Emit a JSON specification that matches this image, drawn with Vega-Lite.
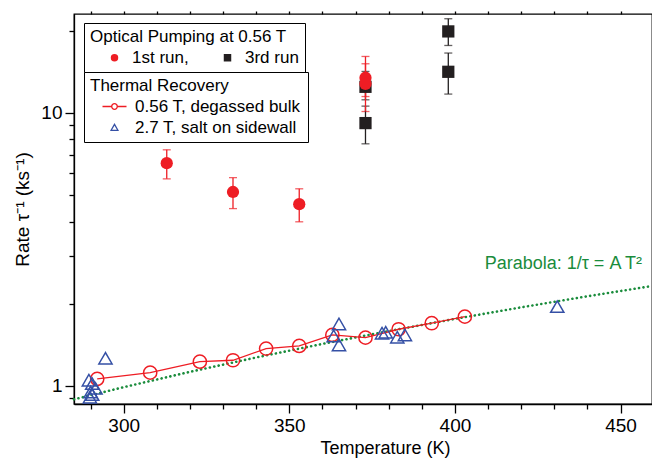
{
  "$schema": "https://vega.github.io/schema/vega-lite/v6.json",
  "width": 578,
  "height": 390,
  "autosize": "none",
  "padding": {"left": 74, "top": 14, "right": 0, "bottom": 64},
  "background": "white",
  "datasets": {
    "op": [
      {"run": "3rd run", "T": 373, "rate": 12.45, "lo": 11.16, "hi": 14.17},
      {"run": "3rd run", "T": 373, "rate": 9.17, "lo": 7.70, "hi": 10.58},
      {"run": "3rd run", "T": 398, "rate": 19.86, "lo": 17.64, "hi": 22.1},
      {"run": "3rd run", "T": 398, "rate": 14.13, "lo": 11.71, "hi": 16.55},
      {"run": "1st run", "T": 313, "rate": 6.54, "lo": 5.73, "hi": 7.32},
      {"run": "1st run", "T": 333, "rate": 5.13, "lo": 4.46, "hi": 5.79},
      {"run": "1st run", "T": 353, "rate": 4.63, "lo": 3.99, "hi": 5.27},
      {"run": "1st run", "T": 373, "rate": 13.44, "lo": 11.47, "hi": 16.08},
      {"run": "1st run", "T": 373, "rate": 12.77, "lo": 10.11, "hi": 15.12}
    ],
    "tr": [
      {"series": "0.56 T, degassed bulk", "T": 292, "rate": 1.061},
      {"series": "0.56 T, degassed bulk", "T": 308, "rate": 1.119},
      {"series": "0.56 T, degassed bulk", "T": 323, "rate": 1.227},
      {"series": "0.56 T, degassed bulk", "T": 333, "rate": 1.242},
      {"series": "0.56 T, degassed bulk", "T": 343, "rate": 1.370},
      {"series": "0.56 T, degassed bulk", "T": 353, "rate": 1.401},
      {"series": "0.56 T, degassed bulk", "T": 363, "rate": 1.538},
      {"series": "0.56 T, degassed bulk", "T": 373, "rate": 1.503},
      {"series": "0.56 T, degassed bulk", "T": 383, "rate": 1.613},
      {"series": "0.56 T, degassed bulk", "T": 393, "rate": 1.697},
      {"series": "0.56 T, degassed bulk", "T": 403, "rate": 1.794},
      {"series": "2.7 T,  salt on sidewall", "T": 289.5, "rate": 1.05},
      {"series": "2.7 T,  salt on sidewall", "T": 290.5, "rate": 1.02},
      {"series": "2.7 T,  salt on sidewall", "T": 291.5, "rate": 0.98},
      {"series": "2.7 T,  salt on sidewall", "T": 290, "rate": 0.95},
      {"series": "2.7 T,  salt on sidewall", "T": 290.5, "rate": 0.93},
      {"series": "2.7 T,  salt on sidewall", "T": 289.8, "rate": 0.91},
      {"series": "2.7 T,  salt on sidewall", "T": 294.5, "rate": 1.263},
      {"series": "2.7 T,  salt on sidewall", "T": 365, "rate": 1.687},
      {"series": "2.7 T,  salt on sidewall", "T": 363.4, "rate": 1.525},
      {"series": "2.7 T,  salt on sidewall", "T": 365, "rate": 1.413},
      {"series": "2.7 T,  salt on sidewall", "T": 378, "rate": 1.56},
      {"series": "2.7 T,  salt on sidewall", "T": 379.1, "rate": 1.573},
      {"series": "2.7 T,  salt on sidewall", "T": 382.6, "rate": 1.508},
      {"series": "2.7 T,  salt on sidewall", "T": 384.9, "rate": 1.538},
      {"series": "2.7 T,  salt on sidewall", "T": 430.9, "rate": 1.952}
    ],
    "fit": [
      {"T": 285, "rate": 0.8935},
      {"T": 300, "rate": 0.99},
      {"T": 320, "rate": 1.1264},
      {"T": 340, "rate": 1.2716},
      {"T": 360, "rate": 1.4256},
      {"T": 380, "rate": 1.5884},
      {"T": 400, "rate": 1.76},
      {"T": 420, "rate": 1.9404},
      {"T": 440, "rate": 2.1296},
      {"T": 459.5, "rate": 2.3225}
    ],
    "note": [
      {"T": 456.5, "rate": 2.69, "label": "Parabola: 1/τ = A T²"}
    ]
  },
  "layer": [
    {
      "data": {"name": "fit"},
      "mark": {"type": "line", "color": "#1a8c3c", "strokeWidth": 2.6, "strokeDash": [0.1, 4.4], "strokeCap": "round"},
      "encoding": {
        "x": {"field": "T", "type": "quantitative", "scale": {"domain": [285, 459.5], "nice": false, "zero": false},
          "axis": {"orient": "top", "values": [290, 300, 310, 320, 330, 340, 350, 360, 370, 380, 390, 400, 410, 420, 430, 440, 450], "labels": false, "tickSize": 3, "domain": false, "title": null}},
        "y": {"field": "rate", "type": "quantitative", "scale": {"type": "log", "domain": [0.859, 23], "nice": false}, "title": "Rate τ⁻¹  (ks⁻¹)"}
      }
    },
    {
      "data": {"name": "tr"},
      "transform": [{"filter": "datum.series == '0.56 T, degassed bulk'"}],
      "mark": {"type": "line", "color": "#ee1d24", "strokeWidth": 1.3},
      "encoding": {
        "x": {"field": "T", "type": "quantitative", "scale": {"domain": [285, 459.5], "nice": false, "zero": false}, "axis": null},
        "y": {"field": "rate", "type": "quantitative", "scale": {"type": "log", "domain": [0.859, 23], "nice": false}, "title": "Rate τ⁻¹  (ks⁻¹)"}
      }
    },
    {
      "data": {"name": "tr"},
      "mark": {"type": "point", "filled": false, "strokeWidth": 1.5, "size": 175, "opacity": 1},
      "encoding": {
        "x": {"field": "T", "type": "quantitative", "scale": {"domain": [285, 459.5], "nice": false, "zero": false}, "axis": null},
        "y": {"field": "rate", "type": "quantitative", "scale": {"type": "log", "domain": [0.859, 23], "nice": false}, "title": "Rate τ⁻¹  (ks⁻¹)"},
        "color": {"field": "series", "type": "nominal", "scale": {"domain": ["0.56 T, degassed bulk", "2.7 T,  salt on sidewall"], "range": ["#ee1d24", "#3550a5"]}, "legend": null},
        "shape": {"field": "series", "type": "nominal", "scale": {"domain": ["0.56 T, degassed bulk", "2.7 T,  salt on sidewall"], "range": ["circle", "triangle-up"]}, "legend": null}
      }
    },
    {
      "data": {"name": "op"},
      "mark": {"type": "errorbar", "ticks": {"size": 8}, "thickness": 1.3},
      "encoding": {
        "x": {"field": "T", "type": "quantitative", "scale": {"domain": [285, 459.5], "nice": false, "zero": false}, "axis": null},
        "y": {"field": "lo", "type": "quantitative", "scale": {"type": "log", "domain": [0.859, 23], "nice": false}, "title": "Rate τ⁻¹  (ks⁻¹)"},
        "y2": {"field": "hi"},
        "color": {"field": "run", "type": "nominal", "scale": {"domain": ["1st run", "3rd run"], "range": ["#ee1d24", "#231f20"]}, "legend": null}
      }
    },
    {
      "data": {"name": "op"},
      "mark": {"type": "point", "filled": true, "size": 150, "opacity": 1},
      "encoding": {
        "x": {"field": "T", "type": "quantitative", "scale": {"domain": [285, 459.5], "nice": false, "zero": false},
          "axis": {"orient": "bottom", "values": [290, 300, 310, 320, 330, 340, 350, 360, 370, 380, 390, 400, 410, 420, 430, 440, 450],
            "labelExpr": "datum.value % 50 == 0 ? datum.label : ''",
            "tickSize": {"condition": {"test": "datum.value % 50 == 0", "value": 9}, "value": 5},
            "labelPadding": 3, "labelOverlap": false, "labelFlush": false, "labelFontSize": 19,
            "title": "Temperature (K)", "titleFontSize": 18, "titlePadding": 4, "titleX": 311}},
        "y": {"field": "rate", "type": "quantitative", "scale": {"type": "log", "domain": [0.859, 23], "nice": false}, "title": "Rate τ⁻¹  (ks⁻¹)",
          "axis": {"values": [0.9, 1, 2, 3, 4, 5, 6, 7, 8, 9, 10, 20],
            "labelExpr": "datum.value == 1 || datum.value == 10 ? datum.label : ''",
            "format": "~g", "labelFontSize": 19,
            "tickSize": {"condition": {"test": "datum.value == 1 || datum.value == 10", "value": 9}, "value": 5},
            "labelPadding": 3, "labelOverlap": false, "titleFontSize": 19, "titlePadding": 8}},
        "color": {"field": "run", "type": "nominal", "scale": {"domain": ["1st run", "3rd run"], "range": ["#ee1d24", "#231f20"]},
          "legend": {"title": "Optical Pumping at 0.56 T", "orient": "none", "legendX": 10, "legendY": 9, "direction": "horizontal",
            "symbolSize": 56, "symbolOffset": 16, "labelOffset": 9, "columnPadding": 14, "titlePadding": 3,
            "labelExpr": "datum.label == '1st run' ? '1st run,' : datum.label"}},
        "shape": {"field": "run", "type": "nominal", "scale": {"domain": ["1st run", "3rd run"], "range": ["circle", "square"]},
          "legend": {"title": "Optical Pumping at 0.56 T", "orient": "none", "legendX": 10, "legendY": 9, "direction": "horizontal",
            "symbolSize": 56, "symbolOffset": 16, "labelOffset": 9, "columnPadding": 14, "titlePadding": 3,
            "labelExpr": "datum.label == '1st run' ? '1st run,' : datum.label"}}
      }
    },
    {
      "data": {"name": "tr"},
      "mark": {"type": "point", "filled": false, "strokeWidth": 1.3, "opacity": 0},
      "encoding": {
        "x": {"field": "T", "type": "quantitative", "scale": {"domain": [285, 459.5], "nice": false, "zero": false}, "axis": null},
        "y": {"field": "rate", "type": "quantitative", "scale": {"type": "log", "domain": [0.859, 23], "nice": false}, "title": "Rate τ⁻¹  (ks⁻¹)"},
        "color": {"field": "series", "type": "nominal", "scale": {"domain": ["0.56 T, degassed bulk", "2.7 T,  salt on sidewall"], "range": ["#ee1d24", "#3550a5"]},
          "legend": {"title": "Thermal Recovery", "orient": "none", "legendX": 10, "legendY": 58, "direction": "vertical",
            "symbolSize": 100, "symbolOffset": 16, "labelOffset": 12, "rowPadding": 3, "titlePadding": 3, "symbolStrokeWidth": 1.3, "symbolOpacity": 1}},
        "shape": {"field": "series", "type": "nominal", "scale": {"domain": ["0.56 T, degassed bulk", "2.7 T,  salt on sidewall"],
            "range": ["M-2.4,0L-0.56,0M0.56,0L2.4,0M0.56,0A0.56,0.56,0,1,1,-0.56,0A0.56,0.56,0,1,1,0.56,0", "M0,-0.62L0.68,0.56L-0.68,0.56Z"]},
          "legend": {"title": "Thermal Recovery", "orient": "none", "legendX": 10, "legendY": 58, "direction": "vertical",
            "symbolSize": 100, "symbolOffset": 16, "labelOffset": 12, "rowPadding": 3, "titlePadding": 3, "symbolStrokeWidth": 1.3, "symbolOpacity": 1}}
      }
    },
    {
      "data": {"name": "note"},
      "mark": {"type": "text", "align": "right", "baseline": "alphabetic", "fontSize": 18, "color": "#1a8c3c", "font": "Liberation Sans"},
      "encoding": {
        "x": {"field": "T", "type": "quantitative", "scale": {"domain": [285, 459.5], "nice": false, "zero": false}, "axis": null},
        "y": {"field": "rate", "type": "quantitative", "scale": {"type": "log", "domain": [0.859, 23], "nice": false}, "title": "Rate τ⁻¹  (ks⁻¹)"},
        "text": {"field": "label"}
      }
    }
  ],
  "resolve": {
    "scale": {"color": "independent", "shape": "independent"},
    "axis": {"x": "independent"},
    "legend": {"color": "independent", "shape": "independent"}
  },
  "config": {
    "font": "Liberation Sans",
    "view": {"stroke": "#000", "strokeWidth": 1.3},
    "axis": {"domainColor": "#000", "domainWidth": 1.3, "tickColor": "#000", "tickWidth": 1.3, "labelColor": "#000", "labelFontSize": 18,
      "titleColor": "#000", "titleFontWeight": "normal", "grid": false, "labelFont": "Liberation Sans", "titleFont": "Liberation Sans"},
    "legend": {"titleFontWeight": "normal", "titleFontSize": 17, "labelFontSize": 17, "titleColor": "#000", "labelColor": "#000",
      "strokeColor": "#000", "fillColor": "#fff", "padding": 6, "titleFont": "Liberation Sans", "labelFont": "Liberation Sans",
      "titleLimit": 400, "labelLimit": 400}
  }
}
